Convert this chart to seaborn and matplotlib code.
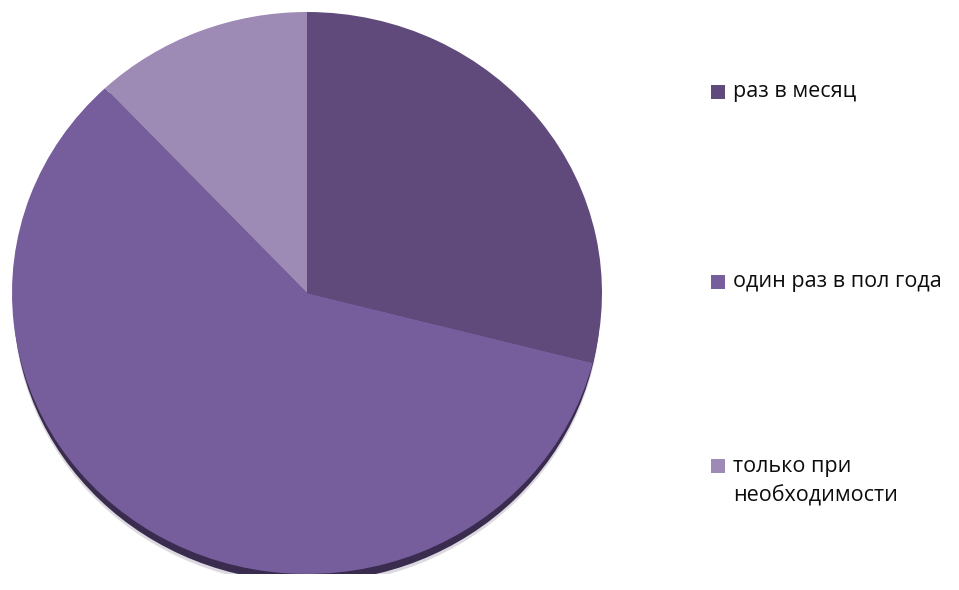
import matplotlib
matplotlib.use("Agg")
import numpy as np
import seaborn as sns
from matplotlib import pyplot as plt
from matplotlib.patches import Ellipse, Rectangle

# data
labels = ["раз в месяц", "один раз в пол года", "только при\nнеобходимости"]
shares = [29, 59, 12]
colors = ["#604A7B", "#765D9C", "#9D8AB5"]

sns.set_theme(style="white")
plt.rcParams['font.family'] = ['Open Sans', 'DejaVu Sans']

W, H = 959, 590
fig = plt.figure(figsize=(W / 100, H / 100), dpi=100)

# pie box in pixels (left, top, width, height) - slightly squashed like a tilted 3D pie
px_left, px_top, px_w, px_h = 12, 12, 590, 562
ax = fig.add_axes([px_left / W, 1 - (px_top + px_h) / H, px_w / W, px_h / H])

# shadow under the pie
ax.add_patch(Ellipse((0.0, -0.04), 1.99, 2.0, facecolor="#dcd9e0", edgecolor="none", zorder=0))
ax.add_patch(Ellipse((0.0, -0.028), 1.99, 2.0, facecolor="#3A2C4E", edgecolor="none", zorder=1))

wedges, _ = ax.pie(
    shares,
    colors=colors,
    startangle=90,
    counterclock=False,
    radius=1,
    wedgeprops=dict(linewidth=0, edgecolor="none"),
)
for w in wedges:
    w.set_zorder(2)

ax.set_xlim(-1, 1)
ax.set_ylim(-1, 1)
ax.set_aspect("auto")
ax.axis("off")

# legend drawn as squares + text
legend_y = [92, 282, 481]
square_y = [92, 282, 466]
for lab, col, y, sy in zip(labels, colors, legend_y, square_y):
    fig.patches.append(Rectangle((711 / W, 1 - (sy + 7) / H), 14 / W, 14 / H,
                                 transform=fig.transFigure, facecolor=col, edgecolor="none"))
    fig.text(733 / W, 1 - y / H, lab, fontsize=15.5, color="#0d0d0d",
             ha="left", va="center", linespacing=1.5)

fig.savefig("out.png", dpi=100)
